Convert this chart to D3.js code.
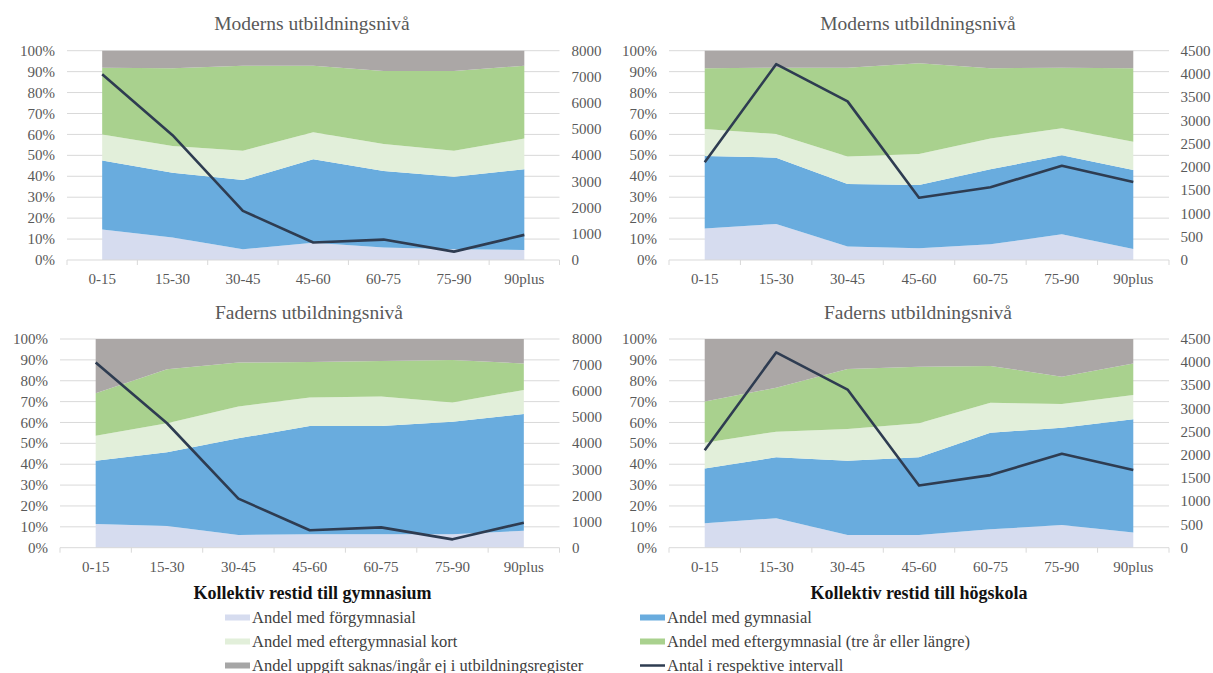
<!DOCTYPE html>
<html>
<head>
<meta charset="utf-8">
<script src="https://cdn.jsdelivr.net/npm/d3@7"></script>
<style>
  html, body { margin: 0; padding: 0; background: #fff; }
  svg { display: block; font-family: "Liberation Serif", "DejaVu Serif", serif; }
</style>
</head>
<body>
<svg id="chart" width="1213" height="673"></svg>
<script>
// ---------- DATA ----------
const categories = ["0-15", "15-30", "30-45", "45-60", "60-75", "75-90", "90plus"];
const seriesNames = [
  "Andel med förgymnasial",
  "Andel med gymnasial",
  "Andel med eftergymnasial kort",
  "Andel med eftergymnasial (tre år eller längre)",
  "Andel uppgift saknas/ingår ej i utbildningsregister"
];
const lineName = "Antal i respektive intervall";

// Moderns utbildningsnivå – kollektiv restid till gymnasium (%)
const morGymnForgymnasial = [14.6, 10.8, 5.1, 8.3, 6.0, 5.1, 4.8];
const morGymnGymnasial    = [32.9, 30.9, 33.1, 39.8, 36.5, 34.7, 38.5];
const morGymnKort         = [12.5, 12.8, 14.0, 12.9, 12.9, 12.4, 14.7];
const morGymnLang         = [31.9, 37.1, 40.6, 31.8, 34.9, 38.1, 34.8];
const morGymnSaknas       = [8.1, 8.4, 7.2, 7.2, 9.7, 9.7, 7.2];

// Moderns utbildningsnivå – kollektiv restid till högskola (%)
const morHogForgymnasial = [15.1, 17.2, 6.4, 5.6, 7.5, 12.3, 5.3];
const morHogGymnasial    = [34.6, 31.7, 29.9, 30.2, 35.8, 37.7, 37.7];
const morHogKort         = [12.9, 11.3, 13.1, 14.8, 14.8, 13.0, 13.5];
const morHogLang         = [29.0, 31.7, 42.5, 43.4, 33.5, 28.9, 35.1];
const morHogSaknas       = [8.4, 8.1, 8.1, 6.0, 8.4, 8.1, 8.4];

// Faderns utbildningsnivå – kollektiv restid till gymnasium (%)
const farGymnForgymnasial = [11.3, 10.4, 6.1, 6.4, 6.5, 6.5, 8.1];
const farGymnGymnasial    = [30.4, 35.3, 46.3, 51.9, 51.8, 53.9, 56.0];
const farGymnKort         = [12.0, 13.9, 15.2, 13.7, 14.1, 9.2, 11.5];
const farGymnLang         = [20.3, 25.9, 21.1, 17.0, 17.1, 20.3, 12.7];
const farGymnSaknas       = [26.0, 14.5, 11.3, 11.0, 10.5, 10.1, 11.7];

// Faderns utbildningsnivå – kollektiv restid till högskola (%)
const farHogForgymnasial = [11.7, 14.1, 6.1, 6.1, 8.8, 10.9, 7.3];
const farHogGymnasial    = [26.3, 29.2, 35.6, 37.2, 46.3, 46.6, 54.2];
const farHogKort         = [12.3, 12.3, 15.2, 16.3, 14.4, 11.3, 11.7];
const farHogLang         = [19.7, 21.1, 28.7, 27.1, 17.6, 13.1, 15.1];
const farHogSaknas       = [30.0, 23.3, 14.4, 13.3, 12.9, 18.1, 11.7];

// Antal i respektive intervall
const antalGymnasium = [7100, 4770, 1880, 670, 780, 320, 960];
const antalHogskola  = [2100, 4210, 3410, 1340, 1565, 2025, 1675];

const pctTicks = [0, 10, 20, 30, 40, 50, 60, 70, 80, 90, 100];
const countTicksGymnasium = [0, 1000, 2000, 3000, 4000, 5000, 6000, 7000, 8000];
const countTicksHogskola  = [0, 500, 1000, 1500, 2000, 2500, 3000, 3500, 4000, 4500];

const titleMor = "Moderns utbildningsnivå";
const titleFar = "Faderns utbildningsnivå";
const xTitleGymnasium = "Kollektiv restid till gymnasium";
const xTitleHogskola  = "Kollektiv restid till högskola";

// ---------- STYLE ----------
const colors = ["#d6dcef", "#69acde", "#e2efda", "#a9d18e", "#aba7a6"];
const lineColor = "#2e3c51";
const gridColor = "#d9d9d9";
const textColor = "#595959";

const svg = d3.select("#chart");

const panels = [
  { title: titleMor, series: [morGymnForgymnasial, morGymnGymnasial, morGymnKort, morGymnLang, morGymnSaknas],
    counts: antalGymnasium, countTicks: countTicksGymnasium,
    x0: 67, x1: 559.5, yTop: 50.7, yBot: 260, leftLab: 55, rightLab: 571.5, titleX: 312, titleY: 30, xLabY: 283.5 },
  { title: titleMor, series: [morHogForgymnasial, morHogGymnasial, morHogKort, morHogLang, morHogSaknas],
    counts: antalHogskola, countTicks: countTicksHogskola,
    x0: 669, x1: 1169, yTop: 50.7, yBot: 260, leftLab: 657, rightLab: 1180.5, titleX: 918, titleY: 30, xLabY: 283.5 },
  { title: titleFar, series: [farGymnForgymnasial, farGymnGymnasial, farGymnKort, farGymnLang, farGymnSaknas],
    counts: antalGymnasium, countTicks: countTicksGymnasium,
    x0: 60, x1: 559.5, yTop: 339, yBot: 547.7, leftLab: 48, rightLab: 572, titleX: 309, titleY: 319.3, xLabY: 572 },
  { title: titleFar, series: [farHogForgymnasial, farHogGymnasial, farHogKort, farHogLang, farHogSaknas],
    counts: antalHogskola, countTicks: countTicksHogskola,
    x0: 669, x1: 1169, yTop: 339, yBot: 547.7, leftLab: 657, rightLab: 1180.5, titleX: 918, titleY: 319.3, xLabY: 572 }
];

panels.forEach(p => {
  const g = svg.append("g");
  const x = d3.scaleBand().domain(categories).range([p.x0, p.x1]).padding(0);
  const cx = c => x(c) + x.bandwidth() / 2;
  const y = d3.scaleLinear().domain([0, 100]).range([p.yBot, p.yTop]);
  const yR = d3.scaleLinear().domain([0, d3.max(p.countTicks)]).range([p.yBot, p.yTop]);

  // gridlines
  g.append("g").selectAll("line").data(pctTicks.filter(t => t > 0)).join("line")
    .attr("x1", p.x0).attr("x2", p.x1)
    .attr("y1", d => y(d)).attr("y2", d => y(d))
    .attr("stroke", gridColor).attr("stroke-width", 1);

  // stacked areas
  const rows = categories.map((c, i) => {
    const r = { cat: c };
    p.series.forEach((s, k) => r["s" + k] = s[i]);
    return r;
  });
  const keys = p.series.map((s, k) => "s" + k);
  const stacked = d3.stack().keys(keys)(rows);
  const area = d3.area()
    .x(d => cx(d.data.cat))
    .y0(d => y(d[0]))
    .y1(d => y(Math.min(100, d[1])));
  g.append("g").selectAll("path").data(stacked).join("path")
    .attr("d", area)
    .attr("fill", (d, i) => colors[i]);

  // x axis line + ticks
  g.append("line").attr("x1", p.x0).attr("x2", p.x1)
    .attr("y1", y(0)).attr("y2", y(0)).attr("stroke", gridColor);
  const tickPos = categories.map(c => x(c)).concat([p.x1]);
  g.append("g").selectAll("line").data(tickPos).join("line")
    .attr("x1", d => d).attr("x2", d => d)
    .attr("y1", y(0)).attr("y2", y(0) + 5)
    .attr("stroke", gridColor);

  // x labels
  g.append("g").selectAll("text").data(categories).join("text")
    .attr("x", d => cx(d)).attr("y", p.xLabY)
    .attr("text-anchor", "middle")
    .attr("font-size", 15).attr("fill", textColor)
    .text(d => d);

  // left labels
  g.append("g").selectAll("text").data(pctTicks).join("text")
    .attr("x", p.leftLab).attr("y", d => y(d))
    .attr("dy", "0.34em").attr("text-anchor", "end")
    .attr("font-size", 15).attr("fill", textColor)
    .text(d => d + "%");

  // right labels
  g.append("g").selectAll("text").data(p.countTicks).join("text")
    .attr("x", p.rightLab).attr("y", d => yR(d))
    .attr("dy", "0.34em").attr("text-anchor", "start")
    .attr("font-size", 15).attr("fill", textColor)
    .text(d => d);

  // line
  const line = d3.line().x((d, i) => cx(categories[i])).y(d => yR(d));
  g.append("path").datum(p.counts)
    .attr("d", line).attr("fill", "none")
    .attr("stroke", lineColor).attr("stroke-width", 2.6)
    .attr("stroke-linejoin", "round");

  // title
  g.append("text").attr("x", p.titleX).attr("y", p.titleY)
    .attr("text-anchor", "middle").attr("font-size", 19.5)
    .attr("fill", textColor).text(p.title);
});

// bottom axis titles
svg.append("text").attr("x", 312.5).attr("y", 599)
  .attr("text-anchor", "middle").attr("font-size", 18).attr("font-weight", "bold")
  .attr("fill", "#111").text(xTitleGymnasium);
svg.append("text").attr("x", 919).attr("y", 599)
  .attr("text-anchor", "middle").attr("font-size", 18).attr("font-weight", "bold")
  .attr("fill", "#111").text(xTitleHogskola);

// legend
const legendItems = [
  { name: seriesNames[0], color: colors[0], col: 0, row: 0, type: "rect" },
  { name: seriesNames[1], color: colors[1], col: 1, row: 0, type: "rect" },
  { name: seriesNames[2], color: colors[2], col: 0, row: 1, type: "rect" },
  { name: seriesNames[3], color: colors[3], col: 1, row: 1, type: "rect" },
  { name: seriesNames[4], color: "#a6a6a6", col: 0, row: 2, type: "rect" },
  { name: lineName, color: lineColor, col: 1, row: 2, type: "line" }
];
const colX = [225, 640];
const rowY = [617.5, 641.5, 665.5];
const lg = svg.append("g");
legendItems.forEach(it => {
  const xx = colX[it.col], yy = rowY[it.row];
  if (it.type === "rect") {
    lg.append("rect").attr("x", xx).attr("y", yy - 3).attr("width", 25).attr("height", 6)
      .attr("fill", it.color);
  } else {
    lg.append("line").attr("x1", xx).attr("x2", xx + 25).attr("y1", yy).attr("y2", yy)
      .attr("stroke", it.color).attr("stroke-width", 2.5);
  }
  lg.append("text").attr("x", xx + 27).attr("y", yy).attr("dy", "0.34em")
    .attr("font-size", 16.5).attr("fill", "#404040").text(it.name);
});
</script>
</body>
</html>
